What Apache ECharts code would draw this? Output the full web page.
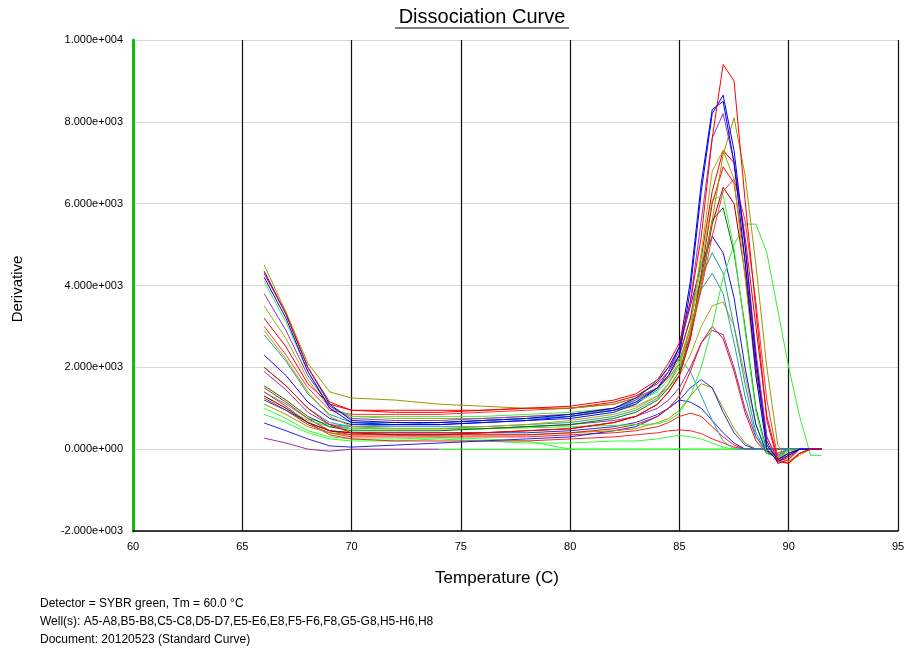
<!DOCTYPE html>
<html><head><meta charset="utf-8">
<script src="https://cdn.jsdelivr.net/npm/echarts@6/dist/echarts.min.js"></script>
<style>html,body{margin:0;padding:0;background:#fff}#c{width:904px;height:649px}</style>
</head><body><div id="c"></div>
<script>
// Temperatures (°C) at which derivative values were read
const temps = [66, 67, 68, 69, 70, 72, 74, 76, 78, 80, 82, 83, 84, 84.5, 85, 85.5, 86, 86.5, 87, 87.5, 88, 88.5, 89, 89.5, 90, 90.5, 91, 91.5];

const xTicks = [60, 65, 70, 75, 80, 85, 90, 95];
const yTicks = [-2000, 0, 2000, 4000, 6000, 8000, 10000];

// Derivative curves (one per well)
const wellA5 = [4300,3300,2000,1150,950,900,900,950,1000,1050,1200,1350,1700,2100,2600,3600,5200,7600,9400,9000,6100,3400,700,-300,-350,-100,0,0];
const wellA6 = [4200,3200,1900,1000,650,600,600,650,700,800,950,1150,1500,1800,2300,3900,6300,8200,8650,7300,5000,2200,100,-250,-100,0,0,0];
const wellA7 = [3800,2900,1800,1050,750,700,700,750,800,850,1000,1200,1500,1900,2400,3600,5600,7600,8200,7000,5000,2400,300,-250,-150,0,0,0];
const wellA8 = [4500,3350,2100,1400,1250,1200,1100,1050,1000,1000,1100,1250,1500,1800,2200,2900,4000,5600,7200,8100,6700,4500,2000,100,-300,-150,0,0];
const wellB5 = [2900,2200,1400,800,550,500,500,550,600,700,850,1000,1300,1600,2000,3000,4800,6800,7300,6600,4200,1800,100,-200,-100,0,0,0];
const wellB6 = [3200,2500,1600,1100,950,950,950,950,1000,1000,1150,1300,1600,1900,2300,3200,4700,6300,7300,7000,5200,3000,800,-250,-350,-100,0,0];
const wellB7 = [2000,1550,1000,600,400,400,400,400,450,500,650,800,1100,1400,1800,2700,4300,6000,6900,6500,4600,2200,300,-300,-200,0,0,0];
const wellB8 = [4100,3100,1900,1050,800,800,800,800,850,900,1000,1150,1400,1700,2100,3000,4500,6100,6200,4900,2900,900,-100,-200,0,0,0,0];
const wellC5 = [1300,1000,700,550,500,500,500,500,520,550,580,600,620,700,880,1300,2000,3000,4200,5000,5500,5500,4800,3400,2000,800,-150,-150];
const wellC6 = [2300,1800,1150,750,600,600,600,650,700,750,900,1100,1500,1900,2500,3500,4500,5200,4800,3700,2000,600,-100,-200,0,0,0,0];
const wellC7 = [2800,2150,1350,850,650,650,650,700,750,800,950,1100,1450,1800,2300,3200,4200,4800,4300,3000,1600,400,-100,-150,0,0,0,0];
const wellC8 = [2000,1550,1000,650,550,550,550,550,600,650,800,950,1250,1600,2100,3000,3900,4300,3800,2600,1300,300,-100,-100,0,0,0,0];
const wellD5 = [3500,2700,1700,1000,800,750,750,750,800,850,950,1050,1300,1500,1800,2300,3000,3500,3600,3000,1800,600,-100,-200,-50,0,0,0];
const wellD6 = [1500,1150,750,450,350,350,350,350,350,400,500,600,800,1000,1300,1900,2600,3000,2700,1900,900,200,-100,-150,0,0,0,0];
const wellD7 = [1900,1450,900,600,500,500,500,500,550,600,700,800,1000,1200,1500,2000,2600,2900,2800,2000,1000,300,-50,-100,0,0,0,0];
const wellE5 = [1400,1100,750,600,550,600,650,700,750,800,1000,1200,1700,2000,2200,1900,1300,700,200,0,0,0,0,0,0,0,0,0];
const wellE6 = [1200,950,650,450,400,400,400,400,400,450,550,650,850,1000,1200,1500,1700,1500,900,400,100,0,0,0,0,0,0,0];
const wellE8 = [1100,850,550,400,350,350,350,350,350,400,450,500,650,750,950,1300,1600,1500,1000,500,150,0,0,0,0,0,0,0];
const wellF5 = [640,450,250,80,50,100,150,200,250,300,450,550,800,1000,1200,1150,1000,700,400,150,0,0,0,0,0,0,0,0];
const wellF6 = [1250,950,600,400,300,300,300,300,300,350,400,450,550,650,800,880,800,550,300,100,0,0,0,0,0,0,0,0];
const wellF8 = [1400,1050,650,350,250,200,200,200,200,250,300,350,400,450,470,450,380,250,150,50,0,0,0,0,0,0,0,0];
const wellG5 = [850,650,400,250,200,200,250,200,150,150,200,200,250,300,340,300,250,150,50,0,0,0,0,0,0,0,0,0];
const wellG6 = [270,150,0,-50,0,0,0,null,null,null,null,null,null,null,null,null,null,null,null,null,null,null,null,null,null,null,null,null];
const wellG7 = [1000,750,450,300,250,250,280,250,200,0,0,0,0,0,0,0,0,0,0,0,0,0,0,0,0,0,0,0];
const wellG8 = [null,null,null,null,null,null,0,0,0,0,0,0,0,0,0,0,0,0,0,0,0,0,0,0,0,0,0,0];
const wellH5 = [4350,3300,2000,1100,700,650,650,700,750,850,1000,1250,1650,2000,2500,4100,6500,8300,8500,7000,4600,1800,0,-300,-150,0,0,0];
const wellH6 = [1550,1200,800,550,450,450,450,500,550,600,750,900,1200,1500,1900,2800,4200,5600,5900,4800,3000,1000,-50,-250,-100,0,0,0];
const wellH8 = [1300,1000,650,450,400,350,350,400,450,500,650,800,1100,1400,1800,2700,4000,5500,6400,6000,4300,2000,200,-350,-250,0,0,0];
const wellX1 = [3000,2300,1500,950,850,850,850,900,950,1000,1100,1250,1500,1750,2100,2800,3900,5200,6300,6600,5600,3600,1200,-200,-300,-100,0,0];

const wells = [
  ['G8', wellG8, '#22ee22'], ['G7', wellG7, '#33ff33'], ['G6', wellG6, '#993399'],
  ['G5', wellG5, '#33ff33'], ['F8', wellF8, '#ff2222'], ['F6', wellF6, '#ee2222'],
  ['F5', wellF5, '#2222ee'], ['E8', wellE8, '#999900'], ['E6', wellE6, '#2233cc'],
  ['E5', wellE5, '#33aaaa'], ['D7', wellD7, '#9933aa'], ['D6', wellD6, '#ee1111'],
  ['D5', wellD5, '#aaaa22'], ['C8', wellC8, '#339999'], ['C7', wellC7, '#229999'],
  ['C6', wellC6, '#1111dd'], ['C5', wellC5, '#33ee33'], ['H6', wellH6, '#007700'],
  ['H8', wellH8, '#990000'], ['X1', wellX1, '#ff3333'], ['B8', wellB8, '#44ee44'],
  ['B7', wellB7, '#ff0000'], ['B6', wellB6, '#ee0000'], ['B5', wellB5, '#aaaa11'],
  ['A8', wellA8, '#999900'], ['A7', wellA7, '#9933cc'], ['H5', wellH5, '#0000cc'],
  ['A6', wellA6, '#0000ff'], ['A5', wellA5, '#ff0000']
];

function sci(v) {
  const s = Number(v).toExponential(3);
  const parts = s.split('e');
  const sign = parts[1][0];
  const d = parts[1].slice(1).padStart(3, '0');
  return parts[0] + 'e' + sign + d;
}

const chart = echarts.init(document.getElementById('c'), null, {renderer: 'canvas'});
const font = 'Liberation Sans, Arial, sans-serif';

const series = wells.map(function (w) {
  return {
    name: w[0], type: 'line', showSymbol: false, symbol: 'none', animation: false,
    connectNulls: false, lineStyle: {width: 1, color: w[2]}, itemStyle: {color: w[2]},
    data: temps.map(function (t, i) { return [t, w[1][i]]; }),
    z: 3
  };
});

chart.setOption({
  animation: false,
  backgroundColor: '#ffffff',
  grid: {left: 133, right: 6, top: 40, bottom: 118, outerBoundsMode: 'none', containLabel: false},
  xAxis: {
    type: 'value', min: xTicks[0], max: xTicks[xTicks.length - 1], interval: 5,
    axisLine: {onZero: false, lineStyle: {color: '#000', width: 1.5}},
    axisTick: {show: false},
    splitLine: {show: true, lineStyle: {color: '#111', width: 1.2}},
    axisLabel: {color: '#000', fontSize: 11, fontFamily: font, margin: 10}
  },
  yAxis: {
    type: 'value', min: yTicks[0], max: yTicks[yTicks.length - 1], interval: 2000,
    axisLine: {show: true, onZero: false, lineStyle: {color: '#11bb11', width: 3}},
    axisTick: {show: false},
    splitLine: {show: true, lineStyle: {color: '#d6d6d6', width: 1}},
    axisLabel: {color: '#000', fontSize: 11, fontFamily: font, margin: 10, formatter: sci}
  },
  graphic: [
    {type: 'text', x: 482, y: 17, style: {text: 'Dissociation Curve', font: '20px ' + font, fill: '#000', align: 'center', verticalAlign: 'middle'}},
    {type: 'line', shape: {x1: 395, y1: 28, x2: 569, y2: 28}, style: {stroke: '#000', lineWidth: 1.2}},
    {type: 'text', x: 497, y: 578, style: {text: 'Temperature (C)', font: '17px ' + font, fill: '#000', align: 'center', verticalAlign: 'middle'}},
    {type: 'text', x: 18, y: 289, rotation: Math.PI / 2, style: {text: 'Derivative', font: '15px ' + font, fill: '#000', align: 'center', verticalAlign: 'middle'}},
    {type: 'text', x: 40, y: 604, style: {text: 'Detector = SYBR green, Tm = 60.0 \u00B0C', font: '12px ' + font, fill: '#000', verticalAlign: 'middle'}},
    {type: 'text', x: 40, y: 622, style: {text: 'Well(s): A5-A8,B5-B8,C5-C8,D5-D7,E5-E6,E8,F5-F6,F8,G5-G8,H5-H6,H8', font: '12px ' + font, fill: '#000', verticalAlign: 'middle'}},
    {type: 'text', x: 40, y: 640, style: {text: 'Document: 20120523 (Standard Curve)', font: '12px ' + font, fill: '#000', verticalAlign: 'middle'}}
  ],
  series: series
});
</script></body></html>
